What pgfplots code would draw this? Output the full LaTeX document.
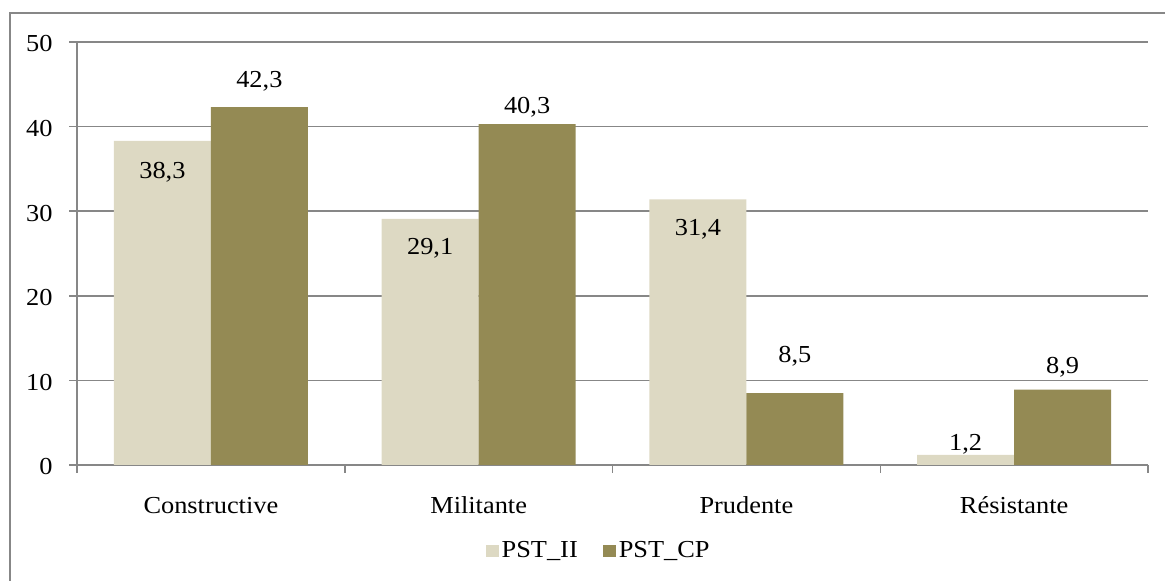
\documentclass[border=0pt]{standalone}
\usepackage{pgfplots}
\pgfplotsset{compat=1.18}
\usepackage{pgfplotstable}
\usepackage{fontspec}
\setmainfont{Liberation Serif}[FakeStretch=1.08]
\definecolor{lightbar}{HTML}{DDD9C3}
\definecolor{olivebar}{HTML}{948A54}
\definecolor{gridgray}{HTML}{878787}
\pgfplotsset{sqlegend/.style={legend image code/.code={\fill[##1] (0pt,-3pt) rectangle (6.5pt,3pt);}}}

\pgfplotstableread{
x y
0 38.3
1 29.1
2 31.4
3 1.2
}\pstii
\pgfplotstableread{
x y
0 42.3
1 40.3
2 8.5
3 8.9
}\pstcp
\pgfplotstableread{
x y label
-0.1811 33.81 38,3
0.8189 24.94 29,1
1.8189 27.07 31,4
2.8189 1.77 1,2
}\lblii
\pgfplotstableread{
x y label
0.1811 44.68 42,3
1.1811 41.49 40,3
2.1811 12.06 8,5
3.1811 10.87 8,9
}\lblcp

\begin{document}
\begin{tikzpicture}[font=\fontsize{12.2}{14}\selectfont]
\useasboundingbox (0,0) rectangle (582.5pt,290.5pt);
\draw[gridgray, line width=0.75pt] (5pt,-10pt) rectangle (600pt,284pt);
\begin{axis}[
  at={(38.5pt,58pt)}, anchor=south west,
  scale only axis, width=535.5pt, height=211.5pt,
  xmin=-0.5, xmax=3.5, ymin=0, ymax=50,
  axis x line*=bottom, axis y line*=left,
  axis line style={-, gridgray, line width=0.75pt},
  xtick={0,1,2,3},
  xticklabels={Constructive, Militante, Prudente, Résistante},
  minor xtick={-0.5,0.5,1.5,2.5,3.5},
  ytick={0,10,...,50},
  ymajorgrids, grid style={gridgray, line width=0.75pt},
  tick align=outside,
  major tick length=4pt, minor tick length=4pt,
  tick style={gridgray, line width=0.75pt},
  major x tick style={draw=none},
  /pgf/number format/assume math mode=true,
  yticklabel style={anchor=east, inner sep=0pt, xshift=-8pt, yshift=-1pt},
  xticklabel style={anchor=base, inner sep=0pt, yshift=-20.5pt},
  legend style={at={(0.4875,-0.203)}, anchor=center, draw=none, fill=none,
    legend columns=2, nodes={inner sep=1.5pt},
    /tikz/every even column/.append style={column sep=11pt}},
]
\addplot[ybar, bar width=48.5pt, bar shift=-24.25pt, fill=lightbar, draw=none, sqlegend]
  table[x=x,y=y] {\pstii};
\addlegendentry{PST\_II}
\addplot[ybar, bar width=48.5pt, bar shift=24.25pt, fill=olivebar, draw=none, sqlegend]
  table[x=x,y=y] {\pstcp};
\addlegendentry{PST\_CP}
\addplot[draw=none, mark=none, forget plot, nodes near coords, point meta=explicit symbolic,
  every node near coord/.append style={anchor=base, inner sep=0pt, black}]
  table[x=x,y=y,meta=label] {\lblii};
\addplot[draw=none, mark=none, forget plot, nodes near coords, point meta=explicit symbolic,
  every node near coord/.append style={anchor=base, inner sep=0pt, black}]
  table[x=x,y=y,meta=label] {\lblcp};
\end{axis}
\end{tikzpicture}
\end{document}
